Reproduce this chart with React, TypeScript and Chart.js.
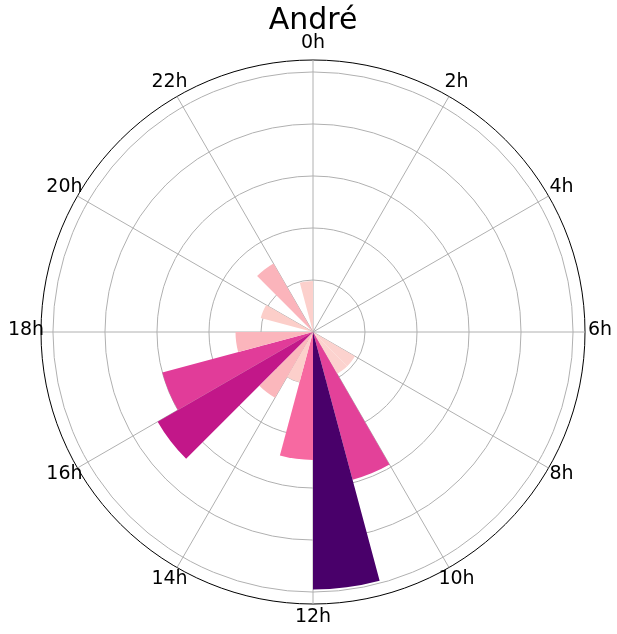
import React, { useEffect, useRef } from 'react';
import { Chart, registerables } from 'chart.js';

Chart.register(...registerables);

const TITLE = 'André';

// 24 hourly categories, clockwise from the top (segment i covers hour i to i+1)
const HOURS = [
  '0h', '1h', '2h', '3h', '4h', '5h', '6h', '7h', '8h', '9h', '10h', '11h',
  '12h', '13h', '14h', '15h', '16h', '17h', '18h', '19h', '20h', '21h', '22h', '23h',
];

// angular tick labels shown around the dial
const TICK_LABELS = ['0h', '2h', '4h', '6h', '8h', '10h', '12h', '14h', '16h', '18h', '20h', '22h'];

// radial values per hour (in grid-ring units)
const VALUES = [
  0, 0, 0, 0, 0, 0, 0, 0, 0.93, 0.93, 2.94, 4.95,
  2.46, 1.0, 1.46, 3.45, 3.0, 1.49, 0, 1.04, 0, 1.52, 0, 0.98,
];

// radial grid rings and the outer limit of the radial axis
const GRID_TICKS = [0, 1, 2, 3, 4, 5];
const R_MAX = 5.23;

const RDPU = ['#fff7f3', '#fde0dd', '#fcc5c0', '#fa9fb5', '#f768a1', '#dd3497', '#ae017e', '#7a0177', '#49006a'];

function hexToRgb(h: string): number[] {
  return [parseInt(h.slice(1, 3), 16), parseInt(h.slice(3, 5), 16), parseInt(h.slice(5, 7), 16)];
}

function rdpu(t: number): string {
  const x = Math.max(0, Math.min(1, t)) * (RDPU.length - 1);
  const i = Math.min(Math.floor(x), RDPU.length - 2);
  const f = x - i;
  const a = hexToRgb(RDPU[i]);
  const b = hexToRgb(RDPU[i + 1]);
  const c = a.map((v, k) => Math.round(v + (b[k] - v) * f));
  return `rgb(${c[0]},${c[1]},${c[2]})`;
}

const hourLabelPlugin = {
  id: 'hourLabels',
  afterDraw(chart: any) {
    const scale = chart.scales.r;
    const ctx = chart.ctx;
    ctx.save();
    ctx.font = '19px "DejaVu Sans"';
    ctx.fillStyle = '#000';
    ctx.textAlign = 'center';
    ctx.textBaseline = 'middle';
    HOURS.forEach((h, i) => {
      if (!TICK_LABELS.includes(h)) return;
      const p = scale.getPointPosition(i, scale.drawingArea + 15);
      ctx.fillText(h, p.x, p.y - 1.5);
    });
    ctx.restore();
  },
};

export default function App() {
  const ref = useRef<HTMLCanvasElement>(null);

  useEffect(() => {
    if (!ref.current) return;
    const vmax = Math.max(...VALUES);
    const colors = VALUES.map((v) => rdpu(v / vmax));
    const chart = new Chart(ref.current, {
      type: 'polarArea',
      data: {
        labels: HOURS,
        datasets: [
          {
            data: VALUES,
            backgroundColor: colors,
            borderWidth: 0,
          },
        ],
      },
      options: {
        responsive: false,
        animation: false,
        devicePixelRatio: 1,
        layout: { padding: { left: 41, right: 32, top: 0, bottom: 30 } },
        plugins: {
          legend: { display: false },
          tooltip: { enabled: false },
          title: {
            display: true,
            text: TITLE,
            color: '#000',
            font: { family: 'DejaVu Sans', size: 30, weight: 'normal' },
            padding: { top: 3, bottom: 21 },
          },
        },
        scales: {
          r: {
            min: 0,
            max: R_MAX,
            startAngle: 0,
            z: 1,
            afterBuildTicks: (scale: any) => {
              scale.ticks = [...GRID_TICKS, R_MAX].map((v) => ({ value: v }));
            },
            ticks: { display: false },
            grid: {
              circular: true,
              lineWidth: 1,
              color: (ctx: any) => (ctx.tick && ctx.tick.value === R_MAX ? '#000000' : '#b0b0b0'),
            },
            angleLines: {
              display: true,
              color: '#b0b0b0',
              lineWidth: (ctx: any) => (TICK_LABELS.includes(HOURS[ctx.index]) ? 1 : 0),
            },
            pointLabels: { display: false },
          },
        },
      },
      plugins: [hourLabelPlugin],
    } as any);
    return () => chart.destroy();
  }, []);

  return (
    <div style={{ position: 'absolute', left: 0, top: 0, width: 617, height: 634, background: '#fff' }}>
      <canvas ref={ref} width={617} height={634} style={{ display: 'block' }} />
    </div>
  );
}
